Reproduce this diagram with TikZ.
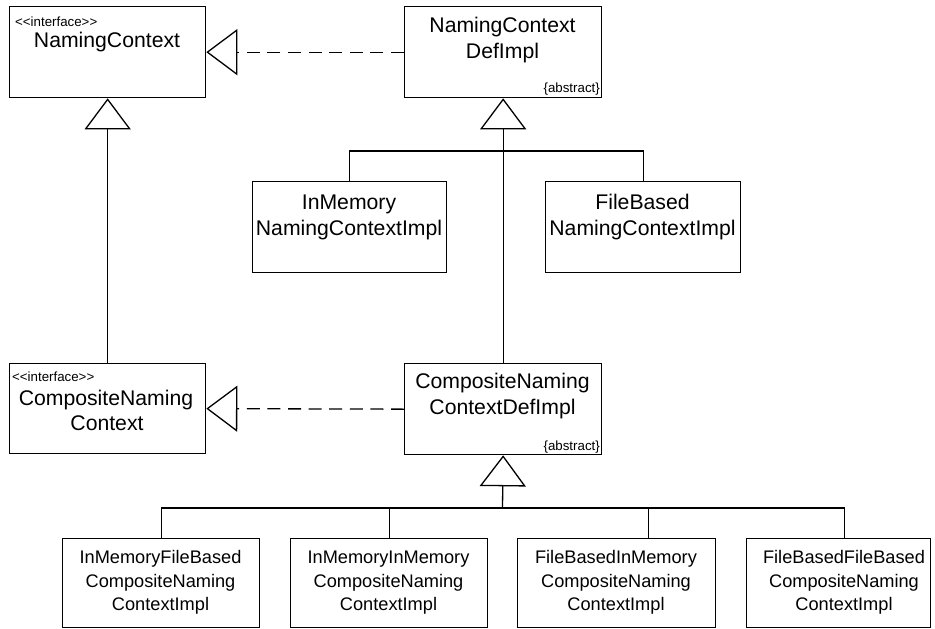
\documentclass[tikz,border=0pt]{standalone}
\usepackage{fontspec}
\setmainfont{Liberation Sans}
\usetikzlibrary{arrows.meta}
\tikzset{
  cls/.style={draw, line width=1.3pt, anchor=north west, inner sep=0pt},
  big/.style={font=\fontsize{21.2}{25}\selectfont, inner sep=0pt, anchor=base},
  mid/.style={font=\fontsize{18.2}{22}\selectfont, inner sep=0pt, anchor=base},
  small/.style={font=\fontsize{13.3}{15}\selectfont, inner sep=0pt},
  gen/.style={line width=1.3pt, -{Triangle[open, length=31pt, width=46pt]}},
  real/.style={gen, dash pattern=on 13pt off 7.6pt},
  plain/.style={line width=1.3pt}
}
\begin{document}
\begin{tikzpicture}[x=1pt, y=-1pt]
\useasboundingbox (0,0) rectangle (935,629);
% boxes
\node[cls, minimum width=196pt, minimum height=91pt] (nc) at (9,6) {};
\node[cls, minimum width=197pt, minimum height=91pt] (ncdi) at (404,6) {};
\node[cls, minimum width=194pt, minimum height=91pt] (inm) at (252,181) {};
\node[cls, minimum width=195pt, minimum height=91pt] (fb) at (545,181) {};
\node[cls, minimum width=196pt, minimum height=90pt] (cnc) at (9,363) {};
\node[cls, minimum width=197pt, minimum height=91pt] (cndi) at (404,363) {};
\node[cls, minimum width=197pt, minimum height=89pt] (b1) at (62,538) {};
\node[cls, minimum width=197pt, minimum height=89pt] (b2) at (290,538) {};
\node[cls, minimum width=198pt, minimum height=89pt] (b3) at (517,538) {};
\node[cls, minimum width=184pt, minimum height=89pt] (b4) at (746,538) {};
% texts
\node[small, anchor=base west] (ncS) at (15,26) {<{}<interface>{}>};
\node[big] (ncT) at (107,47) {NamingContext};
\node[big] (ncdiT1) at (502.5,32) {NamingContext};
\node[big] (ncdiT2) at (502.5,58) {DefImpl};
\node[small, anchor=base east] (ncdiA) at (600,92) {\{abstract\}};
\node[big] (inmT1) at (349,209) {InMemory};
\node[big] (inmT2) at (349,235) {NamingContextImpl};
\node[big] (fbT1) at (642.5,209) {FileBased};
\node[big] (fbT2) at (642.5,235) {NamingContextImpl};
\node[small, anchor=base west] (cncS) at (12,381) {<{}<interface>{}>};
\node[big] (cncT1) at (106,405) {CompositeNaming};
\node[big] (cncT2) at (107,430) {Context};
\node[big] (cndiT1) at (502.5,388) {CompositeNaming};
\node[big] (cndiT2) at (502.5,414) {ContextDefImpl};
\node[small, anchor=base east] (cndiA) at (600,450) {\{abstract\}};
\node[mid] (b1T1) at (160.5,563) {InMemoryFileBased};
\node[mid] (b1T2) at (160.5,587) {CompositeNaming};
\node[mid] (b1T3) at (160.5,610) {ContextImpl};
\node[mid] (b2T1) at (388.5,563) {InMemoryInMemory};
\node[mid] (b2T2) at (388.5,587) {CompositeNaming};
\node[mid] (b2T3) at (388.5,610) {ContextImpl};
\node[mid] (b3T1) at (616,563) {FileBasedInMemory};
\node[mid] (b3T2) at (616,587) {CompositeNaming};
\node[mid] (b3T3) at (616,610) {ContextImpl};
\node[mid] (b4T1) at (844,563) {FileBasedFileBased};
\node[mid] (b4T2) at (844,587) {CompositeNaming};
\node[mid] (b4T3) at (844,610) {ContextImpl};
% connectors
\draw[real] (ncdi.west) -- (nc.east);
\draw[real] (cndi.west) -- (cnc.east);
\draw[gen] (cnc.north) -- (nc.south);
\draw[gen] (cndi.north) -- (ncdi.south);
\coordinate (bus1) at (502.5,151);
\draw[plain] (inm.north) |- (bus1) -| (fb.north);
\coordinate (bus2) at (502.5,508);
\draw[gen] (bus2) -- (cndi.south);
\draw[plain] (b1.north) |- (bus2) -| ([xshift=6pt]b4.north);
\draw[plain] (b2.north) -- (b2.north |- bus2);
\draw[plain] ([xshift=31.5pt]b3.north) -- ([xshift=31.5pt]b3.north |- bus2);
\end{tikzpicture}
\end{document}
